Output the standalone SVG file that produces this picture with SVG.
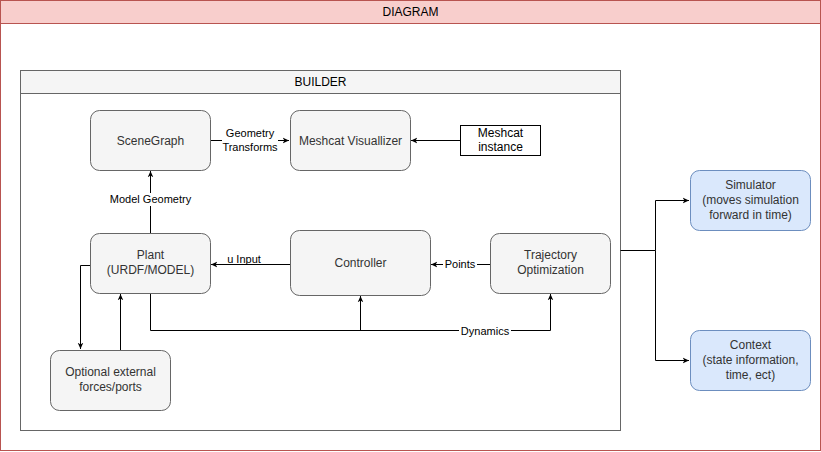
<svg xmlns="http://www.w3.org/2000/svg" width="821" height="452" viewBox="0 0 821 452">
<defs>
<marker id="arr" viewBox="0 0 10 10" refX="9" refY="5" markerWidth="7" markerHeight="7" orient="auto" markerUnits="userSpaceOnUse">
<path d="M0,1 L9,5 L0,9 L2.5,5 Z" fill="#000"/>
</marker>
</defs>
<style>
text{font-family:"Liberation Sans",Arial,sans-serif;}
.node{fill:#f5f5f5;stroke:#666;stroke-width:1;}
.blue{fill:#dae8fc;stroke:#6c8ebf;stroke-width:1;}
.t{font-size:12px;fill:#333;text-anchor:middle;}
.tb{font-size:12px;fill:#000;text-anchor:middle;}
.lbl{font-size:11px;fill:#000;text-anchor:middle;}
.edge{fill:none;stroke:#000;stroke-width:1;}
.lblbg{fill:#fff;}
</style>
<g id="diagram">
<rect x="0.5" y="0.5" width="820" height="450" fill="#fff" stroke="#b85450"/>
<rect x="0.5" y="0.5" width="820" height="23" fill="#f8cecc" stroke="#b85450"/>
<text class="tb" x="410.5" y="16">DIAGRAM</text>
</g>
<g id="builder">
<rect x="20.5" y="70.5" width="600" height="360" fill="#fff" stroke="#666"/>
<rect x="20.5" y="70.5" width="600" height="23" fill="#f5f5f5" stroke="#666"/>
<text class="tb" x="320.5" y="86">BUILDER</text>
</g>
<g id="connectors">
<path class="edge" d="M210.5,140.5 H289" marker-end="url(#arr)"/>
<path class="edge" d="M460.5,140.5 H411" marker-end="url(#arr)"/>
<path class="edge" d="M150.5,233 V171" marker-end="url(#arr)"/>
<path class="edge" d="M290,264.5 H211" marker-end="url(#arr)"/>
<path class="edge" d="M490,264.5 H431" marker-end="url(#arr)"/>
<path class="edge" d="M150.5,293 V330.5 H550.5 V294" marker-end="url(#arr)"/>
<path class="edge" d="M360.5,330.5 V296" marker-end="url(#arr)"/>
<path class="edge" d="M90,265.5 H80.5 V349" marker-end="url(#arr)"/>
<path class="edge" d="M120.5,350 V294" marker-end="url(#arr)"/>
<path class="edge" d="M620.5,250.5 H655.5 V200.5 H689" marker-end="url(#arr)"/>
<path class="edge" d="M655.5,250.5 V360.5 H689" marker-end="url(#arr)"/>
<rect class="lblbg" x="222" y="126" width="56" height="28"/>
<text class="lbl" x="250" y="137">Geometry</text>
<text class="lbl" x="250" y="151">Transforms</text>
<rect class="lblbg" x="106" y="193" width="88" height="13"/>
<text class="lbl" x="150.5" y="203">Model Geometry</text>
<rect class="lblbg" x="225" y="253" width="38" height="11"/>
<text class="lbl" x="244" y="263">u Input</text>
<rect class="lblbg" x="443" y="258" width="34" height="12"/>
<text class="lbl" x="460" y="268">Points</text>
<rect class="lblbg" x="459" y="325" width="52" height="12"/>
<text class="lbl" x="485" y="335">Dynamics</text>
</g>
<g id="scenegraph">
<rect class="node" x="90.5" y="110.5" width="120" height="60" rx="9"/>
<text class="t" x="150.5" y="145">SceneGraph</text>
</g>
<g id="meshcat-visualizer">
<rect class="node" x="290.5" y="110.5" width="120" height="60" rx="9"/>
<text class="t" x="350.5" y="145">Meshcat Visuallizer</text>
</g>
<g id="meshcat-instance">
<rect x="460.5" y="125.5" width="80" height="30" fill="#fff" stroke="#000"/>
<text class="tb" x="500.5" y="137">Meshcat</text>
<text class="tb" x="500.5" y="151">instance</text>
</g>
<g id="plant">
<rect class="node" x="90.5" y="233.5" width="120" height="60" rx="9"/>
<text class="t" x="150.5" y="259">Plant</text>
<text class="t" x="150.5" y="274">(URDF/MODEL)</text>
</g>
<g id="controller">
<rect class="node" x="290.5" y="230.5" width="140" height="65" rx="9"/>
<text class="t" x="360.5" y="267">Controller</text>
</g>
<g id="trajectory-optimization">
<rect class="node" x="490.5" y="233.5" width="120" height="60" rx="9"/>
<text class="t" x="550.5" y="259">Trajectory</text>
<text class="t" x="550.5" y="274">Optimization</text>
</g>
<g id="optional-external">
<rect class="node" x="50.5" y="350.5" width="120" height="60" rx="9"/>
<text class="t" x="110.5" y="376">Optional external</text>
<text class="t" x="110.5" y="391">forces/ports</text>
</g>
<g id="simulator">
<rect class="blue" x="690.5" y="170.5" width="120" height="60" rx="9"/>
<text class="t" x="750.5" y="189">Simulator</text>
<text class="t" x="750.5" y="204">(moves simulation</text>
<text class="t" x="750.5" y="219">forward in time)</text>
</g>
<g id="context">
<rect class="blue" x="690.5" y="330.5" width="120" height="60" rx="9"/>
<text class="t" x="750.5" y="349">Context</text>
<text class="t" x="750.5" y="364">(state information,</text>
<text class="t" x="750.5" y="379">time, ect)</text>
</g>
</svg>
